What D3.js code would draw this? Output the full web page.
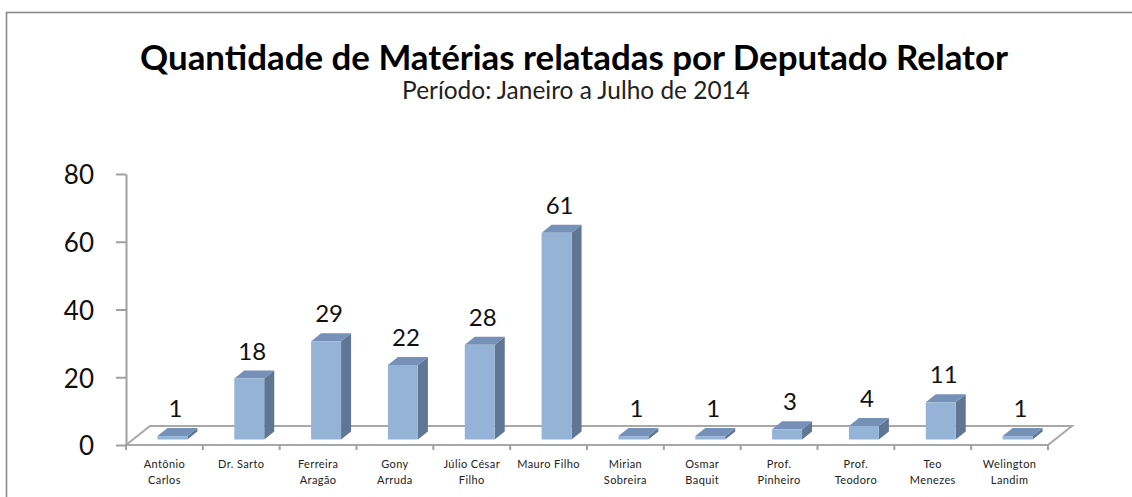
<!DOCTYPE html>
<html>
<head>
<meta charset="utf-8">
<script src="https://cdn.jsdelivr.net/npm/d3@7"></script>
<style>
  body { margin: 0; background: #fff; }
  svg { display: block; font-family: Lato, 'Open Sans', sans-serif; }
</style>
</head>
<body>
<div id="chart"></div>
<script>
// data
const categories = [
  'Antônio\nCarlos', 'Dr. Sarto', 'Ferreira\nAragão', 'Gony\nArruda',
  'Júlio César\nFilho', 'Mauro Filho', 'Mirian\nSobreira', 'Osmar\nBaquit',
  'Prof.\nPinheiro', 'Prof.\nTeodoro', 'Teo\nMenezes', 'Welington\nLandim'
];
const values = [1, 18, 29, 22, 28, 61, 1, 1, 3, 4, 11, 1];
const yTicks = [0, 20, 40, 60, 80];
const title = 'Quantidade de Matérias relatadas por Deputado Relator';
const subtitle = 'Período: Janeiro a Julho de 2014';

const svgWidth = 1132;
const svgHeight = 497;

const margin = {
  top: 174,
  right: 84,
  bottom: 52,
  left: 126
};

const width = svgWidth - margin.left - margin.right;
const height = svgHeight - margin.top - margin.bottom;

// fake 3d: floor depth, where the bars sit inside it and how deep they are
const floorDepth = { x: 24, y: -19 };
const barShift = { x: 8, y: -5.5 };
const barDepth = { x: 10, y: -8 };

const svg = d3.select('#chart')
  .append('svg')
  .attr('width', svgWidth)
  .attr('height', svgHeight);

// chart border (cut off at right / bottom like the screenshot)
svg.append('rect')
  .attr('x', 6.5)
  .attr('y', 12.5)
  .attr('width', svgWidth + 20)
  .attr('height', svgHeight + 20)
  .attr('fill', 'none')
  .attr('stroke', '#8a8a8a')
  .attr('stroke-width', 1.6);

// fit a text to a measured width
function fitText(sel, target) {
  const len = sel.node().getComputedTextLength();
  const size = parseFloat(sel.style('font-size'));
  sel.style('font-size', (size * target / len) + 'px');
}

const titleText = svg.append('text')
  .attr('x', 574)
  .attr('y', 70)
  .attr('text-anchor', 'middle')
  .style('font-size', '28px')
  .style('font-weight', 'bold')
  .attr('fill', '#000')
  .text(title);
fitText(titleText, 868);

const subText = svg.append('text')
  .attr('x', 576)
  .attr('y', 99)
  .attr('text-anchor', 'middle')
  .style('font-size', '20px')
  .attr('fill', '#222')
  .text(subtitle);
fitText(subText, 348);

const chartGroup = svg.append('g')
  .attr('transform', `translate(${margin.left}, ${margin.top})`);

const xScale = d3.scaleBand()
  .domain(categories)
  .range([0, width])
  .padding(0);

const yScale = d3.scaleLinear()
  .domain([0, 80])
  .range([height, 0]);

// floor
const floorPts = [
  [0, height],
  [width, height],
  [width + floorDepth.x, height + floorDepth.y],
  [floorDepth.x, height + floorDepth.y]
];
chartGroup.append('path')
  .attr('d', d3.line()(floorPts) + 'Z')
  .attr('fill', '#fff')
  .attr('stroke', '#a8a8a8')
  .attr('stroke-width', 2);

// y axis
const yAxis = chartGroup.append('g')
  .call(d3.axisLeft(yScale)
    .tickValues(yTicks)
    .tickSize(10)
    .tickSizeOuter(0)
    .tickPadding(22));
yAxis.selectAll('path, line')
  .attr('stroke', '#a0a0a0')
  .attr('stroke-width', 2);
yAxis.selectAll('text')
  .attr('font-family', 'Lato, sans-serif')
  .attr('font-size', 26)
  .attr('dy', '0.38em')
  .attr('fill', '#111');

// x axis ticks at the category edges
const edges = d3.range(categories.length + 1).map(i => i * xScale.step());
chartGroup.append('g')
  .selectAll('line')
  .data(edges)
  .enter()
  .append('line')
  .attr('x1', d => d)
  .attr('x2', d => d)
  .attr('y1', height)
  .attr('y2', height + 5)
  .attr('stroke', '#a0a0a0')
  .attr('stroke-width', 2);

// x labels
const xLabels = chartGroup.append('g')
  .selectAll('text')
  .data(categories)
  .enter()
  .append('text')
  .attr('text-anchor', 'middle')
  .attr('font-size', 11)
  .attr('letter-spacing', 0.4)
  .attr('fill', '#222')
  .attr('transform', d => `translate(${xScale(d) + xScale.bandwidth() / 2}, ${height + 23})`);
xLabels.selectAll('tspan')
  .data(d => d.split('\n'))
  .enter()
  .append('tspan')
  .attr('x', 0)
  .attr('dy', (d, i) => i === 0 ? 0 : 16)
  .text(d => d);

// bars
const data = categories.map((c, i) => ({ name: c, value: values[i] }));
const barW = xScale.bandwidth() * 0.39;

const bars = chartGroup.selectAll('.bar')
  .data(data)
  .enter()
  .append('g')
  .attr('class', 'bar');

const geo = d => {
  const x0 = xScale(d.name) + xScale.bandwidth() / 2 - barW / 2 + barShift.x;
  const x1 = x0 + barW;
  const yTop = yScale(d.value) + barShift.y;
  const yBot = yScale(0) + barShift.y;
  return { x0, x1, yTop, yBot };
};

bars.append('path')
  .attr('d', d => {
    const g = geo(d);
    return d3.line()([
      [g.x1, g.yTop], [g.x1 + barDepth.x, g.yTop + barDepth.y],
      [g.x1 + barDepth.x, g.yBot + barDepth.y], [g.x1, g.yBot]
    ]) + 'Z';
  })
  .attr('fill', '#5f7694');

bars.append('path')
  .attr('d', d => {
    const g = geo(d);
    return d3.line()([
      [g.x0, g.yTop], [g.x1, g.yTop],
      [g.x1 + barDepth.x, g.yTop + barDepth.y], [g.x0 + barDepth.x, g.yTop + barDepth.y]
    ]) + 'Z';
  })
  .attr('fill', '#7591b8');

bars.append('rect')
  .attr('x', d => geo(d).x0)
  .attr('y', d => geo(d).yTop)
  .attr('width', barW)
  .attr('height', d => geo(d).yBot - geo(d).yTop)
  .attr('fill', '#95b3d7');

bars.append('text')
  .attr('x', d => geo(d).x0 + barW / 2 + 3)
  .attr('y', d => geo(d).yTop - 19)
  .attr('text-anchor', 'middle')
  .attr('font-size', 24)
  .attr('fill', '#111')
  .text(d => d.value);
</script>
</body>
</html>
